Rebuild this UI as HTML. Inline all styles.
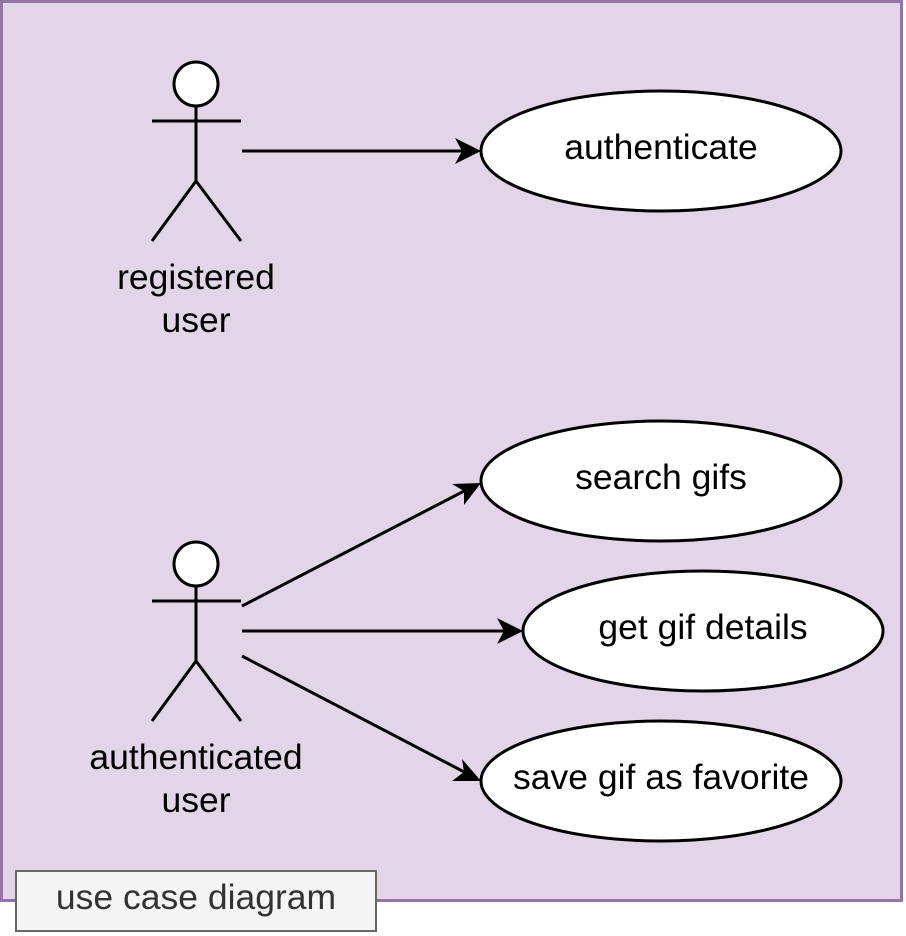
<!DOCTYPE html>
<html><head><style>html,body{margin:0;padding:0;background:#fff}svg{display:block}</style></head>
<body>
<svg width="906" height="936" xmlns="http://www.w3.org/2000/svg" font-family="Liberation Sans, sans-serif">
<rect x="1.5" y="1.5" width="900" height="899" fill="#e1d5e7" stroke="#9673a6" stroke-width="3"/>
<g stroke="#000" stroke-width="3" fill="none">
<circle cx="196" cy="84" r="22" fill="#fff"/>
<line x1="196" y1="106" x2="196" y2="181"/>
<line x1="152" y1="121" x2="241" y2="121"/>
<polyline points="152,241 196,181 241,241"/>
<circle cx="196" cy="564" r="22" fill="#fff"/>
<line x1="196" y1="586" x2="196" y2="661"/>
<line x1="152" y1="601" x2="241" y2="601"/>
<polyline points="152,721 196,661 241,721"/>
<ellipse cx="661" cy="151" rx="180" ry="60" fill="#fff"/>
<ellipse cx="661" cy="481" rx="180" ry="60" fill="#fff"/>
<ellipse cx="703" cy="631" rx="180" ry="60" fill="#fff"/>
<ellipse cx="661" cy="781" rx="180" ry="60" fill="#fff"/>
<line x1="242" y1="151" x2="470" y2="151"/>
<line x1="242" y1="606" x2="470" y2="488"/>
<line x1="242" y1="631" x2="512" y2="631"/>
<line x1="242" y1="656" x2="470" y2="775"/>
</g>
<g fill="#000">
<polygon points="481,151 455,138 462,151 455,164"/>
<polygon points="481,483 452,484 464,491 464,505"/>
<polygon points="523,631 497,618 504,631 497,644"/>
<polygon points="481,781 462,759 464,772 452,781"/>
</g>
<g font-size="35.5" text-anchor="middle" fill="#000">
<text x="661" y="159">authenticate</text>
<text x="661" y="489">search gifs</text>
<text x="703" y="639">get gif details</text>
<text x="661" y="789">save gif as favorite</text>
<text x="196" y="289">registered</text>
<text x="196" y="332">user</text>
<text x="196" y="769">authenticated</text>
<text x="196" y="812">user</text>
</g>
<rect x="16" y="871" width="360" height="60" fill="#f5f5f5" stroke="#666" stroke-width="2"/>
<text x="196" y="909" font-size="35.5" text-anchor="middle" fill="#333">use case diagram</text>
</svg>
</body></html>
